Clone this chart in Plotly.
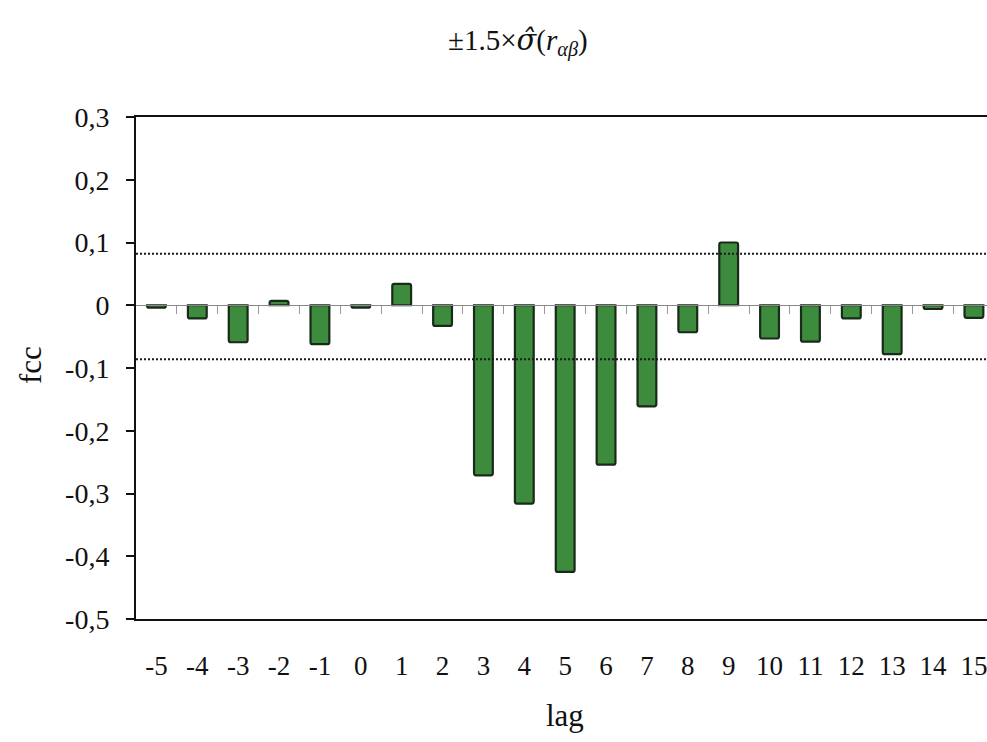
import plotly.graph_objects as go

lags = list(range(-5, 16))
fcc = [-0.004, -0.021, -0.059, 0.007, -0.062, -0.004, 0.034, -0.033, -0.271, -0.316,
       -0.425, -0.254, -0.161, -0.043, 0.100, -0.053, -0.058, -0.021, -0.078, -0.006, -0.020]
upper_limit = 0.082
lower_limit = -0.086
y_tickvals = [0.3, 0.2, 0.1, 0.0, -0.1, -0.2, -0.3, -0.4, -0.5]
y_ticktext = ["0,3", "0,2", "0,1", "0", "-0,1", "-0,2", "-0,3", "-0,4", "-0,5"]
x_ticktext = [str(v) for v in lags]
boundary_ticks = [v + 0.5 for v in lags[:-1]]

X_RANGE = [-5.5, 15.32]
FONT = "Liberation Serif, Times New Roman, serif"
L, R, T, B, W, H = 136, 0, 117, 123, 987, 742
PW, PH = W - L - R, H - T - B

fig = go.Figure()
fig.add_trace(go.Bar(
    x=lags, y=fcc,
    marker=dict(color="#3d8b3d", line=dict(color="#1a2a1a", width=2.2), cornerradius=2),
    width=0.46, showlegend=False, xaxis="x", yaxis="y",
))
for lim in (upper_limit, lower_limit):
    fig.add_trace(go.Scatter(
        x=X_RANGE, y=[lim, lim], mode="lines",
        line=dict(color="#1a1a1a", width=2, dash="2px,2px"),
        showlegend=False, hoverinfo="skip", xaxis="x2", yaxis="y",
    ))

fig.update_layout(
    width=W, height=H,
    margin=dict(l=L, r=R, t=T, b=B),
    paper_bgcolor="white", plot_bgcolor="white",
    font=dict(family=FONT, size=26, color="#111111"),
    xaxis=dict(
        range=X_RANGE, tickvals=lags, ticktext=x_ticktext, ticks="",
        showline=True, linecolor="#111111", linewidth=2, mirror=True,
        showgrid=False, zeroline=False, ticklabelstandoff=22, automargin=False,
        ticklabeloverflow="allow",
        tickfont=dict(family=FONT, size=27),
    ),
    xaxis2=dict(
        range=X_RANGE, overlaying="x", anchor="free", position=0.625,
        tickvals=boundary_ticks, ticks="outside", ticklen=8, tickcolor="#999999",
        tickwidth=1, showticklabels=False, showline=True, linecolor="#888888",
        linewidth=1, showgrid=False, zeroline=False, automargin=False,
    ),
    yaxis=dict(
        range=[-0.5, 0.3], tickvals=y_tickvals, ticktext=y_ticktext,
        ticks="outside", ticklen=8, tickcolor="#111111", tickwidth=1.5,
        showline=True, linecolor="#111111", linewidth=2,
        showgrid=False, zeroline=False, ticklabelstandoff=11, automargin=False,
        tickfont=dict(family=FONT, size=28),
    ),
    annotations=[
        dict(
            text="±1.5×<span style=\"font-family:DejaVu Serif\"><i>σ̂</i></span>(<i>r</i><sub><i>αβ</i></sub>)",
            x=(518 - L) / PW, xref="paper", y=1 + (T - 42) / PH, yref="paper",
            xanchor="center", yanchor="middle", showarrow=False,
            font=dict(family=FONT, size=29, color="#111111"),
        ),
        dict(
            text="fcc", textangle=-90,
            x=-(L - 30) / PW, xref="paper", y=(H - B - 365) / PH, yref="paper",
            xanchor="center", yanchor="middle", showarrow=False,
            font=dict(family=FONT, size=31, color="#111111"),
        ),
        dict(
            text="lag",
            x=(565 - L) / PW, xref="paper", y=-(715 - (H - B)) / PH, yref="paper",
            xanchor="center", yanchor="middle", showarrow=False,
            font=dict(family=FONT, size=31, color="#111111"),
        ),
    ],
)
fig.write_html("out.html", config={"displayModeBar": False},
               post_script="document.body.style.margin='0';")
